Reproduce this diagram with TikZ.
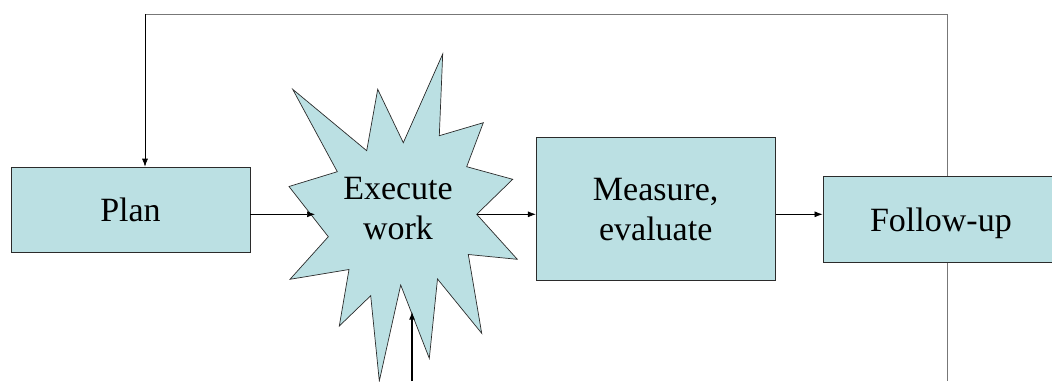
\documentclass[tikz,border=0pt]{standalone}
\usepackage{fontspec}
\setmainfont{Liberation Serif}
\usetikzlibrary{arrows.meta, positioning}
\definecolor{mcyan}{HTML}{BBE0E3}
\definecolor{mline}{HTML}{2B2B2B}
\definecolor{mgray}{HTML}{777777}
\tikzstyle{stage} = [rectangle, draw = mline, fill = mcyan, inner sep = 0pt, minimum width = 239pt, text depth = 0pt, align = center, font = \fontsize{34}{40}\selectfont]
\tikzstyle{bursttext} = [inner sep = 0pt, text depth = 0pt, align = center, font = \fontsize{34}{40}\selectfont]
\tikzstyle{link} = [->, >={Latex[length=8pt, width=6pt]}]
\tikzstyle{loopback} = [draw = mgray]

\begin{document}
\begin{tikzpicture}[x=1pt, y=-1pt, line width=0.7pt]
  \useasboundingbox (0,0) rectangle (1052,381);
  % burst behind the middle label
  \filldraw [fill = mcyan, draw = mline] (292.7,89.3) -- (366.7,150.7) -- (377.7,89.3) -- (403.3,142.7)
    -- (442.7,54) -- (439.3,135.7) -- (483.3,122.7) -- (466.7,166.7) -- (512.7,179.3) -- (476.7,214.3)
    -- (517.3,259.3) -- (468.3,254.5) -- (481.7,333.3) -- (437.5,279) -- (429.3,358.3) -- (400.7,285)
    -- (379.3,381) -- (370.7,295.7) -- (339.3,326) -- (349,269.5) -- (290,279.3) -- (328.3,236.7)
    -- (289,186.5) -- (337.3,171.7) -- cycle;
  \node (plan) [stage, minimum height = 85pt] at (130.5,209.5) {Plan};
  \node (exec) [bursttext] at (398,208) {Execute\\work};
  \node (measure) [stage, minimum height = 143pt] at (655.7,209.3) {Measure,\\evaluate};
  \node (follow) [stage, minimum width = 236pt, minimum height = 86pt, right = 47pt of measure, yshift = -10pt] {Follow-up};
  \coordinate (execW) at (315,214.3);
  \coordinate (execE) at (476.7,214.3);
  \coordinate (execS) at (412,311.7);
  \coordinate (inflow) at (412,381);
  \coordinate (turn) at (947,14);
  \coordinate (feed) at (145,14);
  \coordinate (outflow) at (947,381);
  \draw [link] (plan.east |- execW) -- (execW);
  \draw [link] (execE) -- (execE -| measure.west);
  \draw [link] (measure.east |- execE) -- (follow.west |- execE);
  \draw [link, line width = 1.2pt] (inflow) -- (execS);
  \draw [loopback] (follow.north -| turn) -- (turn) -- (feed);
  \draw [link] (feed) -- (feed |- plan.north);
  \draw [loopback] (follow.south -| outflow) -- (outflow);
\end{tikzpicture}
\end{document}
